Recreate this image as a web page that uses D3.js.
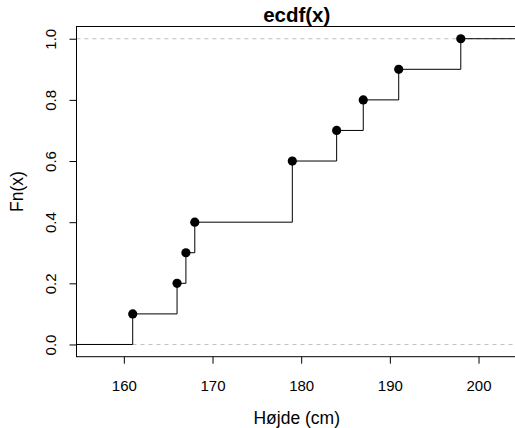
<!DOCTYPE html>
<html>
<head>
<meta charset="utf-8">
<script src="https://cdn.jsdelivr.net/npm/d3@7"></script>
<style>
  html, body { margin: 0; padding: 0; background: #fff; overflow: hidden; }
  text { font-family: "Liberation Sans", Arial, Helvetica, sans-serif; }
</style>
</head>
<body>
<svg id="chart"></svg>
<script>
// Værdier
const knots = [161, 166, 167, 168, 179, 184, 187, 191, 198];
const fnValues = [0.1, 0.2, 0.3, 0.4, 0.6, 0.7, 0.8, 0.9, 1.0];
const xTicks = [160, 170, 180, 190, 200];
const yTicks = [0.0, 0.2, 0.4, 0.6, 0.8, 1.0];
const xDomain = [154.66, 204.34];
const yDomain = [-0.04, 1.04];

const width = 515;
const height = 428;
const plot = { left: 76.5, top: 26.5, right: 517, bottom: 356.7 };

const svg = d3.select('#chart')
    .attr('width', width)
    .attr('height', height);

const x = d3.scaleLinear().domain(xDomain).range([plot.left, plot.right]);
const y = d3.scaleLinear().domain(yDomain).range([plot.bottom, plot.top]);

// stiplede hjælpelinjer ved 0 og 1
svg.selectAll('line.hline')
    .data([0, 1])
    .enter().append('line')
    .attr('class', 'hline')
    .attr('x1', plot.left)
    .attr('x2', width)
    .attr('y1', d => y(d))
    .attr('y2', d => y(d))
    .attr('stroke', '#bebebe')
    .attr('stroke-width', 1)
    .attr('stroke-dasharray', '4,4');

// trappefunktion
const steps = [];
steps.push({ x0: xDomain[0], x1: knots[0], v: 0 });
knots.forEach((k, i) => {
    const next = i < knots.length - 1 ? knots[i + 1] : xDomain[1];
    steps.push({ x0: k, x1: next, v: fnValues[i] });
});

svg.selectAll('line.hstep')
    .data(steps)
    .enter().append('line')
    .attr('class', 'hstep')
    .attr('x1', d => x(d.x0))
    .attr('x2', d => x(d.x1))
    .attr('y1', d => y(d.v))
    .attr('y2', d => y(d.v))
    .attr('stroke', '#000')
    .attr('stroke-width', 1);

svg.selectAll('line.vstep')
    .data(knots)
    .enter().append('line')
    .attr('class', 'vstep')
    .attr('x1', d => x(d))
    .attr('x2', d => x(d))
    .attr('y1', (d, i) => y(i === 0 ? 0 : fnValues[i - 1]))
    .attr('y2', (d, i) => y(fnValues[i]))
    .attr('stroke', '#000')
    .attr('stroke-width', 1);

svg.selectAll('circle.pt')
    .data(knots)
    .enter().append('circle')
    .attr('class', 'pt')
    .attr('cx', d => x(d))
    .attr('cy', (d, i) => y(fnValues[i]))
    .attr('r', 4.6)
    .attr('fill', '#000');

// ramme
svg.append('rect')
    .attr('x', plot.left)
    .attr('y', plot.top)
    .attr('width', plot.right - plot.left)
    .attr('height', plot.bottom - plot.top)
    .attr('fill', 'none')
    .attr('stroke', '#000')
    .attr('stroke-width', 1);

// akser
const axisX = d3.axisBottom(x)
    .tickValues(xTicks)
    .tickSize(7)
    .tickFormat(d3.format('d'));
const gX = svg.append('g')
    .attr('transform', 'translate(0,' + plot.bottom + ')')
    .call(axisX);
gX.select('.domain').remove();
gX.selectAll('text')
    .attr('font-size', 15)
    .attr('fill', '#000')
    .attr('y', 34.3)
    .attr('dy', 0);

const axisY = d3.axisLeft(y)
    .tickValues(yTicks)
    .tickSize(7)
    .tickFormat(d3.format('.1f'));
const gY = svg.append('g')
    .attr('transform', 'translate(' + plot.left + ',0)')
    .call(axisY);
gY.select('.domain').remove();
gY.selectAll('text')
    .attr('font-size', 15)
    .attr('fill', '#000')
    .attr('x', 0)
    .attr('dy', 0)
    .attr('text-anchor', 'middle')
    .attr('transform', 'translate(-21,0) rotate(-90)');

// titler
svg.append('text')
    .attr('x', (plot.left + plot.right) / 2)
    .attr('y', 22)
    .attr('text-anchor', 'middle')
    .attr('font-size', 20.5)
    .attr('font-weight', 'bold')
    .text('ecdf(x)');

svg.append('text')
    .attr('x', (plot.left + plot.right) / 2)
    .attr('y', 424)
    .attr('text-anchor', 'middle')
    .attr('font-size', 17.5)
    .text('Højde (cm)');

svg.append('text')
    .attr('transform', 'translate(23,' + (plot.top + plot.bottom) / 2 + ') rotate(-90)')
    .attr('text-anchor', 'middle')
    .attr('font-size', 17.5)
    .text('Fn(x)');
</script>
</body>
</html>
